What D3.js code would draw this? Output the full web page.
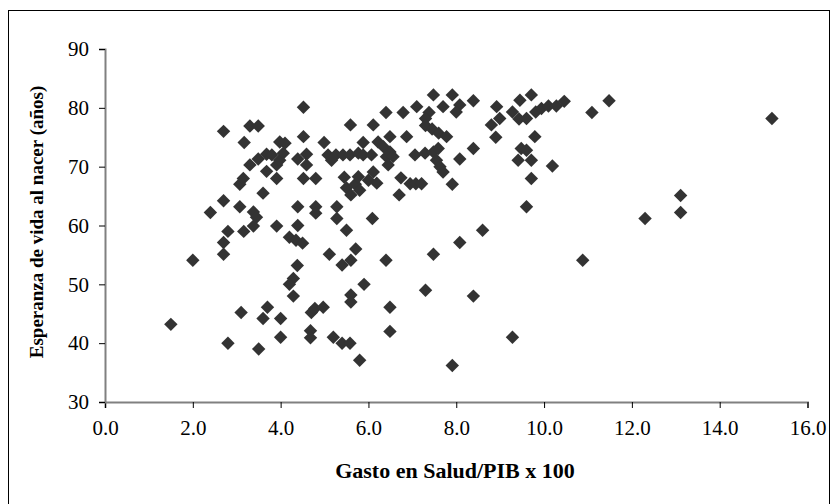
<!DOCTYPE html>
<html><head><meta charset="utf-8">
<script src="https://cdn.jsdelivr.net/npm/d3@7"></script>
<style>body{margin:0;background:#fff}svg{display:block}</style>
</head><body>
<script>
const xTicks = [0,2,4,6,8,10,12,14,16];
const yTicks = [30,40,50,60,70,80,90];
const xTitle = "Gasto en Salud/PIB x 100";
const yTitle = "Esperanza de vida al nacer (años)";
const gasto = [
1.5,2.0,2.4,2.7,2.7,2.7,2.7,2.8,2.8,3.1,3.07,3.15,3.07,3.17,3.16,3.3,3.49,3.3,3.49,3.38,3.45,3.38,3.5,3.6,3.6,
3.68,3.8,3.68,3.7,3.91,3.91,3.98,4.06,3.98,4.1,3.91,4.0,4.0,4.2,4.35,4.5,4.39,4.39,4.38,4.29,4.2,4.29,4.39,
4.52,4.52,4.59,4.59,4.52,4.8,4.8,4.8,4.7,4.78,4.97,4.68,4.68,4.99,5.08,5.26,5.42,5.58,5.16,5.28,5.28,5.11,
5.2,5.4,5.58,5.4,5.6,5.5,5.71,5.9,5.6,5.6,5.8,5.45,5.5,5.6,5.7,5.8,5.77,6.0,6.19,6.11,5.59,6.11,5.88,5.77,
5.88,6.07,6.22,6.34,6.49,6.41,6.56,6.45,6.49,6.87,6.4,6.79,6.74,6.7,6.09,6.4,6.49,6.49,6.95,7.08,7.21,7.1,
7.48,7.91,8.39,7.7,8.08,8.0,7.38,7.3,7.3,7.45,7.6,7.78,7.06,7.29,7.48,7.59,7.55,7.63,7.7,8.08,8.39,7.91,
7.48,7.3,8.08,8.6,8.39,7.91,8.92,8.99,8.8,8.9,9.45,9.71,9.28,9.43,9.6,9.81,9.94,10.1,10.28,10.46,9.79,9.48,
9.6,9.41,9.71,10.19,9.71,9.6,9.28,10.88,11.09,11.48,12.3,13.11,13.11,15.19
];
const esperanza = [
43.2,54.1,62.2,76.0,64.2,57.1,55.1,59.0,40.0,45.2,67.0,68.0,63.2,74.1,59.0,76.9,76.9,70.3,71.3,62.3,61.4,59.9,39.0,65.5,44.2,
72.1,72.0,69.2,46.1,68.0,70.3,71.1,72.3,74.2,74.0,59.9,44.2,41.0,58.0,57.5,57.0,60.0,63.2,53.2,51.0,50.0,48.0,71.3,
80.1,75.1,72.1,70.3,68.0,68.0,63.2,62.1,45.2,45.9,46.1,42.1,40.9,74.1,72.0,72.0,72.0,72.0,71.1,63.2,61.2,55.1,
41.0,40.0,40.0,53.3,54.1,59.2,56.0,50.0,48.2,47.0,37.1,68.2,66.4,65.2,67.0,66.0,68.3,67.7,67.2,69.1,77.1,77.1,74.1,72.3,
72.0,72.0,74.2,73.4,72.5,71.7,71.7,70.3,75.1,75.1,79.2,79.2,68.1,65.2,61.2,54.1,46.1,42.0,67.1,67.1,67.1,80.2,
82.2,82.2,81.2,80.2,80.5,79.3,79.2,78.2,77.0,76.4,75.7,75.1,72.0,72.3,72.5,73.1,71.1,70.0,69.1,71.3,73.1,67.0,
55.1,49.0,57.1,59.2,48.0,36.2,80.2,78.2,77.1,75.0,81.3,82.2,79.3,78.1,78.2,79.3,79.9,80.3,80.3,81.1,75.1,73.1,
72.8,71.1,71.1,70.1,68.0,63.2,41.0,54.1,79.2,81.2,61.2,65.1,62.2,78.2
];
const data = gasto.map((g,i)=>({x:g,y:esperanza[i]}));

const W=838,H=504;
const svg=d3.select("body").append("svg").attr("width",W).attr("height",H);
svg.append("rect").attr("x",8.5).attr("y",10.5).attr("width",821).attr("height",520)
  .attr("fill","none").attr("stroke","#000").attr("stroke-width",1);

const x=d3.scaleLinear().domain([0,16]).range([105,807.5]);
const y=d3.scaleLinear().domain([30,90]).range([402,49]);
const font="'Liberation Serif','Times New Roman',serif";
const axisColor="#808080";

const gx=svg.append("g").attr("transform","translate(0,402)")
  .call(d3.axisBottom(x).tickValues(xTicks).tickFormat(d3.format(".1f")).tickSize(6).tickPadding(12));
const gy=svg.append("g").attr("transform","translate(105,0)")
  .call(d3.axisLeft(y).tickValues(yTicks).tickSize(6).tickPadding(10));
[gx,gy].forEach(g=>{
  g.attr("font-family",null).attr("font-size",null);
  g.select(".domain").attr("stroke",axisColor).attr("stroke-width",2);
  g.selectAll(".tick line").attr("stroke","#000").attr("stroke-width",1);
  g.selectAll(".tick text").attr("fill","#000").style("font-family",font).style("font-size","21px");
});

const sym=d3.symbol().type(d3.symbolSquare).size(90);
svg.append("g").selectAll("path").data(data).join("path")
  .attr("d",sym)
  .attr("transform",d=>`translate(${x(d.x)},${y(d.y)}) rotate(45)`)
  .attr("fill","#333333");

svg.append("text").attr("x",455).attr("y",478).attr("text-anchor","middle")
  .style("font-family",font).style("font-size","22px").style("font-weight","bold").text(xTitle);
svg.append("text").attr("transform","translate(43,222) rotate(-90)").attr("text-anchor","middle")
  .style("font-family",font).style("font-size","19px").style("font-weight","bold").text(yTitle);
</script>
</body></html>
